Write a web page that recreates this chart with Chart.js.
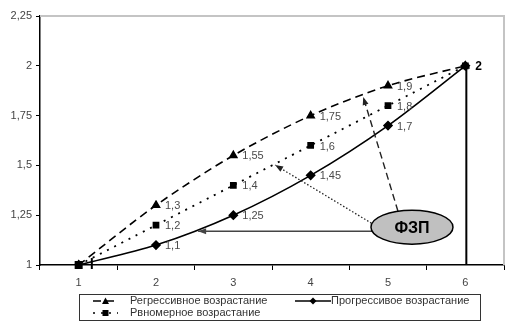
<!DOCTYPE html>
<html>
<head>
<meta charset="utf-8">
<script src="https://cdn.jsdelivr.net/npm/chart.js@4.4.0/dist/chart.umd.min.js"></script>
<style>
  html, body { margin: 0; padding: 0; background: #fff; }
  #wrap { width: 510px; height: 323px; }
</style>
</head>
<body>
<div id="wrap"><canvas id="grafico" width="510" height="323"></canvas></div>
<script>
/** datos */
let categorias = ["1", "2", "3", "4", "5", "6"]
let regresivo = [1, 1.3, 1.55, 1.75, 1.9, 2]
let progresivo = [1, 1.1, 1.25, 1.45, 1.7, 2]
let uniforme = [1, 1.2, 1.4, 1.6, 1.8, 2]
let nombres = ["Регрессивное возрастание", "Прогрессивое возрастание", "Рвномерное возрастание"]
let y_min = 1, y_max = 2.25, y_paso = 0.25
let texto_ovalo = "ФЗП"

const fuente = "'Liberation Sans', Arial, sans-serif"

function coma(v){ 
    return v.toString().replace(".", ",")
}

/** etiquetas de los puntos, flechas, ovalo y leyenda */
const extras = {
  id: "extras",
  afterDatasetsDraw(chart){
    const ctx = chart.ctx
    const xs = chart.scales.x, ys = chart.scales.y
    const area = chart.chartArea

    // marco gris arriba y a la derecha
    ctx.save()
    ctx.strokeStyle = "#c4c4c4"
    ctx.lineWidth = 2
    ctx.beginPath()
    ctx.moveTo(area.left, area.top)
    ctx.lineTo(area.right, area.top)
    ctx.lineTo(area.right, area.bottom)
    ctx.stroke()
    ctx.restore()

    // etiquetas de valores
    ctx.save()
    ctx.font = "11px " + fuente
    ctx.fillStyle = "#4a4a4a"
    ctx.textBaseline = "middle"
    ctx.textAlign = "left"
    chart.data.datasets.forEach(function(ds, i){
      const meta = chart.getDatasetMeta(i)
      meta.data.forEach(function(el, j){
        if (j == 0 || j == ds.data.length - 1) return
        ctx.fillText(coma(ds.data[j]), el.x + 9, el.y + 1)
      })
    })
    const ult = chart.getDatasetMeta(0).data[regresivo.length - 1]
    ctx.font = "bold 12px " + fuente
    ctx.fillStyle = "#000"
    ctx.fillText(coma(regresivo[regresivo.length - 1]), ult.x + 10, ult.y + 1)
    ctx.restore()

    // linea vertical en x = 6
    ctx.save()
    ctx.strokeStyle = "#000"
    ctx.lineWidth = 2
    ctx.beginPath()
    ctx.moveTo(ult.x + 1, ult.y)
    ctx.lineTo(ult.x + 1, ys.getPixelForValue(y_min))
    ctx.stroke()
    // marca corta cerca de x = 1
    ctx.beginPath()
    ctx.moveTo(xs.getPixelForValue(0.17), ys.getPixelForValue(1.035))
    ctx.lineTo(xs.getPixelForValue(0.17), ys.getPixelForValue(y_min) + 4)
    ctx.stroke()
    ctx.restore()

    // cuadrado del punto inicial encima
    const p0 = chart.getDatasetMeta(2).data[0]
    ctx.save()
    ctx.fillStyle = "#000"
    ctx.fillRect(p0.x - 4, p0.y - 4, 8, 8)
    ctx.restore()

    // ovalo
    const cx = xs.getPixelForValue(4.31), cy = ys.getPixelForValue(1.19)
    const rx = 41, ry = 17

    function flecha(x0, y0, x1, y1, dash, color, ancho){
      ctx.save()
      ctx.strokeStyle = color
      ctx.fillStyle = color
      ctx.lineWidth = ancho
      ctx.setLineDash(dash)
      ctx.beginPath()
      ctx.moveTo(x0, y0)
      ctx.lineTo(x1, y1)
      ctx.stroke()
      ctx.setLineDash([])
      const ang = Math.atan2(y1 - y0, x1 - x0)
      const l = 8, w = 3
      ctx.beginPath()
      ctx.moveTo(x1, y1)
      ctx.lineTo(x1 - l * Math.cos(ang) + w * Math.sin(ang), y1 - l * Math.sin(ang) - w * Math.cos(ang))
      ctx.lineTo(x1 - l * Math.cos(ang) - w * Math.sin(ang), y1 - l * Math.sin(ang) + w * Math.cos(ang))
      ctx.closePath()
      ctx.fill()
      ctx.restore()
    }

    flecha(cx - rx * 0.97, cy + 4, xs.getPixelForValue(1.545), cy + 4, [], "#444", 1.5)
    flecha(cx - rx * 0.99, cy - 4, xs.getPixelForValue(2.54), ys.getPixelForValue(1.502), [1.5, 2], "#222", 1.3)
    flecha(cx - 14, cy - ry * 0.94, xs.getPixelForValue(3.68), ys.getPixelForValue(1.843), [7, 4], "#222", 1.4)

    ctx.save()
    ctx.beginPath()
    ctx.ellipse(cx, cy, rx, ry, 0, 0, Math.PI * 2)
    ctx.fillStyle = "#c0c0c0"
    ctx.fill()
    ctx.lineWidth = 1.5
    ctx.strokeStyle = "#000"
    ctx.stroke()
    ctx.font = "bold 16px " + fuente
    ctx.fillStyle = "#000"
    ctx.textAlign = "center"
    ctx.textBaseline = "middle"
    ctx.fillText(texto_ovalo, cx, cy + 1)
    ctx.restore()

    // leyenda con marco
    ctx.save()
    ctx.strokeStyle = "#333"
    ctx.lineWidth = 1
    ctx.strokeRect(79.5, 294.5, 401, 26)
    const items = [
      {x: 93, y: 301, len: 25, tx: 130},
      {x: 295, y: 301, len: 36, tx: 331},
      {x: 93, y: 313, len: 25, tx: 130}
    ]
    ctx.font = "11px " + fuente
    ctx.textBaseline = "middle"
    chart.data.datasets.forEach(function(ds, i){
      const it = items[i]
      ctx.strokeStyle = "#000"
      ctx.lineWidth = 1.5
      ctx.setLineDash(ds.borderDash || [])
      ctx.beginPath()
      ctx.moveTo(it.x, it.y)
      ctx.lineTo(it.x + it.len, it.y)
      ctx.stroke()
      ctx.setLineDash([])
      const mx = it.x + it.len / 2
      ctx.fillStyle = "#000"
      ctx.beginPath()
      if (ds.pointStyle == "triangle"){
        ctx.moveTo(mx, it.y - 3.5); ctx.lineTo(mx + 3.5, it.y + 3); ctx.lineTo(mx - 3.5, it.y + 3)
      } else if (ds.pointStyle == "rect"){
        ctx.rect(mx - 3, it.y - 3, 6, 6)
      } else {
        ctx.moveTo(mx, it.y - 3.5); ctx.lineTo(mx + 3.5, it.y); ctx.lineTo(mx, it.y + 3.5); ctx.lineTo(mx - 3.5, it.y)
      }
      ctx.closePath()
      ctx.fill()
      ctx.fillStyle = "#333"
      ctx.fillText(ds.label, it.tx, it.y)
    })
    ctx.restore()
  }
}

var ctx = document.getElementById("grafico").getContext("2d")
var grafico = new Chart(ctx, {
  type: "line",
  data: {
    labels: categorias,
    datasets: [{
      label: nombres[0],
      data: regresivo,
      borderColor: "#000",
      backgroundColor: "#000",
      borderWidth: 1.6,
      borderDash: [8, 5],
      pointStyle: "triangle",
      pointRadius: 4,
      tension: 0.3
    }, {
      label: nombres[1],
      data: progresivo,
      borderColor: "#000",
      backgroundColor: "#000",
      borderWidth: 1.6,
      pointStyle: "rectRot",
      pointRadius: 4,
      tension: 0.3
    }, {
      label: nombres[2],
      data: uniforme,
      borderColor: "#000",
      backgroundColor: "#000",
      borderWidth: 1.8,
      borderDash: [2, 6],
      pointStyle: "rect",
      pointRadius: 3.5,
      tension: 0.3
    }]
  },
  options: {
    responsive: false,
    animation: false,
    layout: { padding: { top: 16, right: 6, left: 0, bottom: 0 } },
    plugins: {
      legend: { display: false },
      tooltip: { enabled: false }
    },
    scales: {
      x: {
        offset: true,
        afterFit: function(s){ s.height = 58 },
        grid: { display: true, drawOnChartArea: false, offset: true, tickLength: 5, color: "#000", lineWidth: 1 },
        border: { display: true, color: "#000", width: 1.5 },
        ticks: { color: "#444", font: { family: fuente, size: 11 }, padding: 6 }
      },
      y: {
        min: y_min,
        max: y_max,
        afterFit: function(s){ s.width = 40 },
        grid: { display: true, drawOnChartArea: false, tickLength: 4, color: "#000", lineWidth: 1 },
        border: { display: true, color: "#000", width: 1.5 },
        ticks: {
          stepSize: y_paso,
          color: "#444",
          font: { family: fuente, size: 11 },
          padding: 4,
          callback: function(v){ return coma(v) }
        }
      }
    }
  },
  plugins: [extras]
})
</script>
</body>
</html>
